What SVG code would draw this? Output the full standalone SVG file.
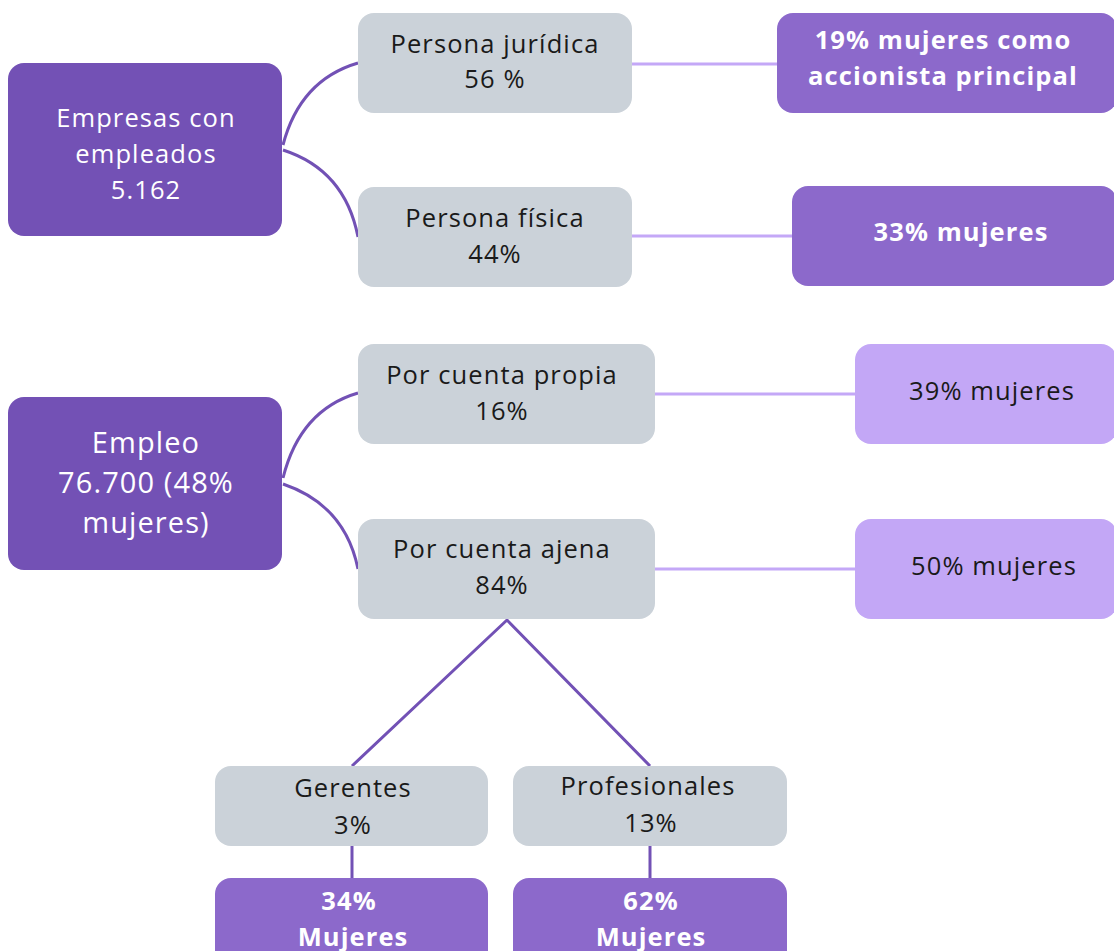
<svg xmlns="http://www.w3.org/2000/svg" width="1114" height="951" viewBox="0 0 1114 951">
<style>
.dark{fill:#7351b5}
.mid{fill:#8c69cb}
.light{fill:#c3a7f6}
.gray{fill:#cbd2d9}
text{font-family:"Open Sans","Noto Sans",sans-serif;font-size:25.5px;text-anchor:middle;letter-spacing:1.1px}
.tw{fill:#ffffff}
.tk{fill:#1a1a1a}
.b{font-weight:bold}
.big{font-size:29px}
.c{fill:none;stroke:#7251b5;stroke-width:3}
.l{fill:none;stroke:#c4a8f7;stroke-width:3}
</style>
<rect width="1114" height="951" fill="#ffffff"/>
<g id="connectors">
<path class="c" d="M283,145 Q300,80 358,63"/>
<path class="c" d="M283,150 Q345,170 358,237"/>
<path class="c" d="M283,478 Q300,410 358,393"/>
<path class="c" d="M283,484 Q345,505 358,569"/>
<line class="l" x1="632" y1="64" x2="777" y2="64"/>
<line class="l" x1="632" y1="236" x2="792" y2="236"/>
<line class="l" x1="655" y1="394" x2="855" y2="394"/>
<line class="l" x1="655" y1="569" x2="855" y2="569"/>
<path class="c" d="M352,766 L507,620 L650,766"/>
<line class="c" x1="352" y1="846" x2="352" y2="879"/>
<line class="c" x1="650" y1="846" x2="650" y2="879"/>
</g>
<g id="empresas">
<rect class="dark" x="8" y="63" width="274" height="173" rx="16"/>
<text class="tw" x="146" y="127">Empresas con</text>
<text class="tw" x="146" y="163">empleados</text>
<text class="tw" x="146" y="199">5.162</text>
</g>
<g id="juridica">
<rect class="gray" x="358" y="13" width="274" height="100" rx="16"/>
<text class="tk" x="495" y="53">Persona jurídica</text>
<text class="tk" x="495" y="88">56 %</text>
</g>
<g id="fisica">
<rect class="gray" x="358" y="187" width="274" height="100" rx="16"/>
<text class="tk" x="495" y="227">Persona física</text>
<text class="tk" x="495" y="263">44%</text>
</g>
<g id="m19">
<rect class="mid" x="777" y="13" width="340" height="100" rx="16"/>
<text class="tw b" x="943" y="49">19% mujeres como</text>
<text class="tw b" x="943" y="85">accionista principal</text>
</g>
<g id="m33">
<rect class="mid" x="792" y="186" width="325" height="100" rx="16"/>
<text class="tw b" x="961" y="241">33% mujeres</text>
</g>
<g id="empleo">
<rect class="dark" x="8" y="397" width="274" height="173" rx="16"/>
<text class="tw big" x="146" y="453">Empleo</text>
<text class="tw big" x="146" y="493">76.700 (48%</text>
<text class="tw big" x="146" y="533">mujeres)</text>
</g>
<g id="propia">
<rect class="gray" x="358" y="344" width="297" height="100" rx="16"/>
<text class="tk" x="502" y="384">Por cuenta propia</text>
<text class="tk" x="502" y="420">16%</text>
</g>
<g id="ajena">
<rect class="gray" x="358" y="519" width="297" height="100" rx="16"/>
<text class="tk" x="502" y="558">Por cuenta ajena</text>
<text class="tk" x="502" y="594">84%</text>
</g>
<g id="m39">
<rect class="light" x="855" y="344" width="262" height="100" rx="16"/>
<text class="tk" x="992" y="400">39% mujeres</text>
</g>
<g id="m50">
<rect class="light" x="855" y="519" width="262" height="100" rx="16"/>
<text class="tk" x="994" y="575">50% mujeres</text>
</g>
<g id="gerentes">
<rect class="gray" x="215" y="766" width="273" height="80" rx="16"/>
<text class="tk" x="353" y="797">Gerentes</text>
<text class="tk" x="353" y="834">3%</text>
</g>
<g id="profesionales">
<rect class="gray" x="513" y="766" width="274" height="80" rx="16"/>
<text class="tk" x="648" y="795">Profesionales</text>
<text class="tk" x="651" y="832">13%</text>
</g>
<g id="m34">
<rect class="mid" x="215" y="878" width="273" height="90" rx="16"/>
<text class="tw b" x="349" y="910">34%</text>
<text class="tw b" x="353" y="946">Mujeres</text>
</g>
<g id="m62">
<rect class="mid" x="513" y="878" width="274" height="90" rx="16"/>
<text class="tw b" x="651" y="910">62%</text>
<text class="tw b" x="651" y="946">Mujeres</text>
</g>
</svg>
